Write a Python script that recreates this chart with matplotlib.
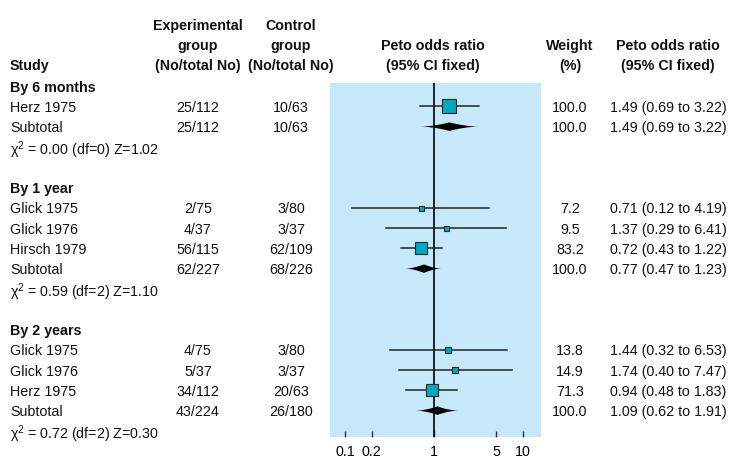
import matplotlib as mpl
mpl.use('Agg')
import matplotlib.pyplot as plt
import matplotlib.transforms as mtransforms
from matplotlib import font_manager
from matplotlib.ticker import NullLocator
import numpy as np

# data
groups = ['By 6 months', 'By 1 year', 'By 2 years']
study_names = [['Herz 1975'],
               ['Glick 1975', 'Glick 1976', 'Hirsch 1979'],
               ['Glick 1975', 'Glick 1976', 'Herz 1975']]
exp_counts = [['25/112'], ['2/75', '4/37', '56/115'], ['4/75', '5/37', '34/112']]
ctrl_counts = [['10/63'], ['3/80', '3/37', '62/109'], ['3/80', '3/37', '20/63']]
odds = [[1.49], [0.71, 1.37, 0.72], [1.44, 1.74, 0.94]]
ci_low = [[0.69], [0.12, 0.29, 0.43], [0.32, 0.40, 0.48]]
ci_high = [[3.22], [4.19, 6.41, 1.22], [6.53, 7.47, 1.83]]
weights = [[100.0], [7.2, 9.5, 83.2], [13.8, 14.9, 71.3]]
sub_exp = ['25/112', '62/227', '43/224']
sub_ctrl = ['10/63', '68/226', '26/180']
sub_odds = [1.49, 0.77, 1.09]
sub_low = [0.69, 0.47, 0.62]
sub_high = [3.22, 1.23, 1.91]
chi2 = [0.00, 0.59, 0.72]
dfs = [0, 2, 2]
zs = [1.02, 1.10, 0.30]
tick_vals = [0.1, 0.2, 1, 5, 10]
tick_labels = ['0.1', '0.2', '1', '5', '10']

# pick a condensed font if there is one
names = {f.name for f in font_manager.fontManager.ttflist}
if 'Liberation Sans Narrow' in names:
    fam, fs = 'Liberation Sans Narrow', 12.5
else:
    fam, fs = 'Liberation Sans', 10.3
plt.rcParams['font.family'] = [fam, 'DejaVu Sans']
plt.rcParams['mathtext.fontset'] = 'custom'
plt.rcParams['mathtext.rm'] = fam
plt.rcParams['mathtext.it'] = fam + ':italic'
plt.rcParams['mathtext.bf'] = fam + ':bold'

fig = plt.figure(figsize=(7.29, 4.58), dpi=100)
ax = fig.add_axes([330/729, 21/458, 211/729, 354/458])
ax.set_facecolor('#C7E8F8')
ax.set_xscale('log')
ax.set_xlim(0.0678, 15.9)
ax.set_ylim(17.3, -0.15)
for s in ax.spines.values():
    s.set_visible(False)
ax.set_yticks([])
ax.set_xticks(tick_vals)
ax.set_xticklabels(tick_labels)
ax.xaxis.set_minor_locator(NullLocator())
ax.tick_params(axis='x', direction='in', length=4, width=1, color='#333333',
               pad=6, labelsize=fs, labelcolor='black')
ax.axvline(1, color='black', lw=1.2, zorder=2)

trans = mtransforms.blended_transform_factory(fig.transFigure, ax.transData)

def txt(xpix, row, s, ha='left', bold=False):
    fig.text(xpix/729, row, s, transform=trans, ha=ha, va='center_baseline',
             fontsize=fs, fontweight='bold' if bold else 'normal', color='#111111')

def diamond(c, lo, hi, row, h=0.21):
    lc, llo, lhi = np.log10([c, lo, hi])
    u = np.linspace(0, 1, 40)
    lx = llo + (lc - llo) * u
    rx = lhi + (lc - lhi) * u
    xs = np.concatenate([lx, rx[::-1]])
    up = h * np.concatenate([u**1.8, (u**1.8)[::-1]])
    xx = np.concatenate([xs, xs[::-1]])
    yy = np.concatenate([row - up, (row + up)[::-1]])
    ax.fill(10**xx, yy, color='black', lw=0, zorder=3)

# header
hdr = [-3.05, -2.05, -1.05]
txt(10, hdr[2], 'Study', bold=True)
for r, s in zip(hdr, ['Experimental', 'group', '(No/total No)']):
    txt(198, r, s, ha='center', bold=True)
for r, s in zip(hdr, ['Control', 'group', '(No/total No)']):
    txt(291, r, s, ha='center', bold=True)
txt(433, hdr[1], 'Peto odds ratio', ha='center', bold=True)
txt(433, hdr[2], '(95% CI fixed)', ha='center', bold=True)
txt(570, hdr[1], 'Weight', ha='center', bold=True)
txt(570, hdr[2], '(%)', ha='center', bold=True)
txt(668, hdr[1], 'Peto odds ratio', ha='center', bold=True)
txt(668, hdr[2], '(95% CI fixed)', ha='center', bold=True)

row = 0
for g in range(len(groups)):
    txt(10, row, groups[g], bold=True)
    row += 1
    for i in range(len(study_names[g])):
        txt(10, row, study_names[g][i])
        txt(198, row, exp_counts[g][i], ha='center')
        txt(291, row, ctrl_counts[g][i], ha='center')
        w = weights[g][i]
        ax.plot([ci_low[g][i], ci_high[g][i]], [row, row], color='#222222', lw=1.1, zorder=3)
        ax.plot([odds[g][i]], [row], marker='s', ms=max(3.6, 10 * np.sqrt(w / 100)),
                mfc='#00A9BF', mec='#1c2b30', mew=0.8, zorder=4)
        txt(570, row, f'{w:.1f}', ha='center')
        txt(668, row, f'{odds[g][i]:.2f} ({ci_low[g][i]:.2f} to {ci_high[g][i]:.2f})', ha='center')
        row += 1
    txt(10, row, 'Subtotal')
    txt(198, row, sub_exp[g], ha='center')
    txt(291, row, sub_ctrl[g], ha='center')
    diamond(sub_odds[g], sub_low[g], sub_high[g], row)
    txt(570, row, '100.0', ha='center')
    txt(668, row, f'{sub_odds[g]:.2f} ({sub_low[g]:.2f} to {sub_high[g]:.2f})', ha='center')
    row += 1
    txt(10, row, f'χ$^2$ = {chi2[g]:.2f} (df={dfs[g]}) Z={zs[g]:.2f}')
    row += 2

fig.savefig('out.png', dpi=100)
